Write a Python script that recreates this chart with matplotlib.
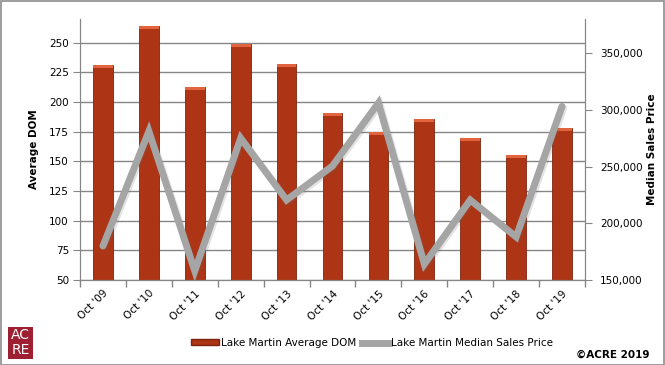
import matplotlib
matplotlib.use("Agg")
import matplotlib.pyplot as plt
import matplotlib.patheffects as pe
from matplotlib.patches import Rectangle
from matplotlib.lines import Line2D
from matplotlib.ticker import FuncFormatter
import numpy as np

categories = ["Oct '09", "Oct '10", "Oct '11", "Oct '12", "Oct '13", "Oct '14",
              "Oct '15", "Oct '16", "Oct '17", "Oct '18", "Oct '19"]
avg_dom = [231, 264, 213, 249, 232, 191, 175, 186, 170, 155, 178]
median_price = [180000, 281000, 158000, 275000, 220500, 250500, 306000, 164000,
                220500, 188000, 303000]

plt.rcParams['font.family'] = ['DejaVu Sans']

fig = plt.figure(figsize=(6.65, 3.65), dpi=100)
ax = fig.add_axes([80/665, 1-280/365, 505/665, 261/365])
ax2 = ax.twinx()

x = np.arange(len(categories))
bar_color = '#AD3414'
ax.bar(x, avg_dom, width=0.43, color=bar_color, edgecolor='#7E240E', linewidth=0.6,
       zorder=2)
# lighter top bevel
ax.bar(x, [2.5]*len(x), bottom=np.array(avg_dom)-2.5, width=0.43, color='#E2643E',
       linewidth=0, zorder=3)

ax.set_ylim(50, 270)
ax.set_xlim(-0.5, len(x)-0.5)
ax.set_yticks(np.arange(50, 251, 25))
ax.grid(axis='y', color='#868686', linewidth=1.0, zorder=0)
ax.set_axisbelow(True)

ax2.plot(x, median_price, color='#A5A5A5', linewidth=5, solid_capstyle='round',
         solid_joinstyle='miter', zorder=5,
         path_effects=[pe.SimpleLineShadow(offset=(1.2, -1.2), shadow_color='#666666', alpha=0.18),
                       pe.Normal()])
ax2.set_ylim(150000, 380000)
ax2.set_yticks(np.arange(150000, 350001, 50000))
ax2.yaxis.set_major_formatter(FuncFormatter(lambda v, p: f"{int(v):,}"))

for a in (ax, ax2):
    a.spines['top'].set_visible(False)
    a.spines['left'].set_color('#868686')
    a.spines['right'].set_color('#868686')
    a.spines['bottom'].set_color('#868686')

ax.patch.set_visible(False)

ax.set_xticks(x)
ax.set_xticklabels(categories, rotation=45, ha='right', rotation_mode='anchor', fontsize=7.5)
ax.tick_params(axis='x', which='major', length=0, pad=6)
ax.set_xticks(np.arange(-0.5, len(x), 1), minor=True)
ax.tick_params(axis='x', which='minor', length=5, color='#868686', width=1)
ax.tick_params(axis='y', length=5, color='#868686', labelsize=7.5, pad=3)
ax2.tick_params(axis='y', length=5, color='#868686', labelsize=7.5, pad=6)

ax.set_ylabel('Average DOM', fontsize=7.5, fontweight='bold', labelpad=7)
ax2.set_ylabel('Median Sales Price', fontsize=7.5, fontweight='bold', labelpad=3)

# legend
handles = [Rectangle((0, 0), 1, 1, facecolor=bar_color, edgecolor='#7E240E'),
           Line2D([0], [0], color='#A5A5A5', linewidth=5)]
fig.legend(handles, ['Lake Martin Average DOM', 'Lake Martin Median Sales Price'],
           loc='center', bbox_to_anchor=(0.56, 1-343/365), ncol=2, frameon=False,
           fontsize=7.5, handlelength=2.6, handleheight=0.5, columnspacing=0.6,
           handletextpad=0.2)

fig.text(650/665, 1-355/365, '©ACRE 2019', fontsize=7.5, fontweight='bold',
         ha='right', va='center')

# logo
fig.patches.append(Rectangle((8/665, 1-359/365), 25/665, 32/365, transform=fig.transFigure,
                             facecolor='#9E1F32', edgecolor='none'))
fig.text(20.5/665, 1-335/365, 'AC', color='white', fontsize=10, ha='center', va='center')
fig.text(20.5/665, 1-350/365, 'RE', color='white', fontsize=10, ha='center', va='center')

# outer border
fig.patches.append(Rectangle((0.5/665, 0.5/365), 663.5/665, 363.5/365, transform=fig.transFigure,
                             facecolor='none', edgecolor='#8c8c8c', linewidth=1.2))

fig.savefig('out.png', dpi=100)
